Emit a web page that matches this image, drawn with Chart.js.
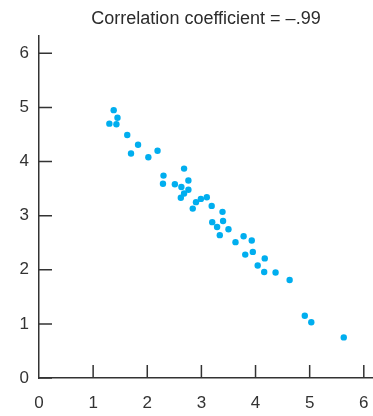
<!DOCTYPE html>
<html lang="en">
<head>
  <meta charset="UTF-8" />
  <title>Correlation coefficient = –.99</title>
  <script src="https://cdn.jsdelivr.net/npm/chart.js"></script>
  <style>
    html, body { margin: 0; padding: 0; background: #fff; }
    .wrap { width: 373px; height: 416px; }
  </style>
</head>
<body>
  <div class="wrap"><canvas id="scatter" width="373" height="416"></canvas></div>

  <script>
    // values
    const xValues = [1.38, 1.45, 1.30, 1.43, 1.63, 1.83, 1.70, 2.02, 2.19, 2.68,
                     2.30, 2.29, 2.76, 2.51, 2.63, 2.76, 2.68, 2.62, 2.90, 2.99,
                     3.10, 2.84, 3.19, 3.39, 3.20, 3.40, 3.29, 3.50, 3.34, 3.78,
                     3.63, 3.93, 3.95, 3.81, 4.17, 4.04, 4.16, 4.37, 4.63, 4.91,
                     5.03, 5.63];
    const yValues = [4.95, 4.81, 4.70, 4.69, 4.49, 4.31, 4.15, 4.08, 4.20, 3.87,
                     3.74, 3.59, 3.65, 3.58, 3.53, 3.48, 3.41, 3.33, 3.25, 3.31,
                     3.34, 3.13, 3.18, 3.07, 2.88, 2.90, 2.79, 2.75, 2.64, 2.62,
                     2.51, 2.54, 2.33, 2.28, 2.21, 2.08, 1.96, 1.95, 1.81, 1.15,
                     1.03, 0.75];
    const tickValues = [0, 1, 2, 3, 4, 5, 6];
    const titleText = 'Correlation coefficient = \u2013.99';

    const points = xValues.map((x, i) => ({ x: x, y: yValues[i] }));

    // tick marks point inward from the axis lines
    const innerTicks = {
      id: 'innerTicks',
      afterDraw(chart) {
        const ctx = chart.ctx;
        const xs = chart.scales.x;
        const ys = chart.scales.y;
        const area = chart.chartArea;
        ctx.save();
        ctx.strokeStyle = '#333';
        ctx.lineWidth = 1.5;
        ctx.beginPath();
        tickValues.forEach(v => {
          if (v > 0) {
            const px = xs.getPixelForValue(v);
            ctx.moveTo(px, area.bottom);
            ctx.lineTo(px, area.bottom - 13);
          }
          const py = ys.getPixelForValue(v);
          ctx.moveTo(area.left, py);
          ctx.lineTo(area.left + 13, py);
        });
        ctx.stroke();
        ctx.restore();
      }
    };

    const tickFont = { family: "'Liberation Sans', Arial, sans-serif", size: 17 };

    new Chart(document.getElementById('scatter').getContext('2d'), {
      type: 'scatter',
      data: {
        datasets: [{
          data: points,
          backgroundColor: '#00aeef',
          borderColor: '#00aeef',
          borderWidth: 0,
          pointRadius: 3.2,
          pointHoverRadius: 3.2
        }]
      },
      options: {
        responsive: false,
        animation: false,
        layout: { autoPadding: false, padding: 0 },
        plugins: {
          legend: { display: false },
          tooltip: { enabled: false },
          title: {
            display: true,
            text: titleText,
            fullSize: false,
            color: '#2b2b2b',
            font: { family: "'Liberation Sans', Arial, sans-serif", size: 18, weight: 'normal', lineHeight: 1.2 },
            padding: { top: 8, bottom: 6.4 }
          }
        },
        scales: {
          x: {
            type: 'linear',
            min: 0,
            max: 6.17,
            afterFit(scale) {
              scale.height = 38;
              scale.paddingLeft = 0;
              scale.paddingRight = 0;
            },
            border: { display: true, color: '#333', width: 1.5 },
            grid: { display: false, drawTicks: false },
            ticks: { stepSize: 1, includeBounds: false, padding: 15, color: '#333', font: tickFont }
          },
          y: {
            type: 'linear',
            min: 0,
            max: 6.32,
            afterFit(scale) {
              scale.width = 39;
              scale.paddingTop = 0;
              scale.paddingBottom = 0;
            },
            border: { display: true, color: '#333', width: 1.5 },
            grid: { display: false, drawTicks: false },
            ticks: { stepSize: 1, includeBounds: false, padding: 10, color: '#333', font: tickFont }
          }
        }
      },
      plugins: [innerTicks]
    });
  </script>
</body>
</html>
